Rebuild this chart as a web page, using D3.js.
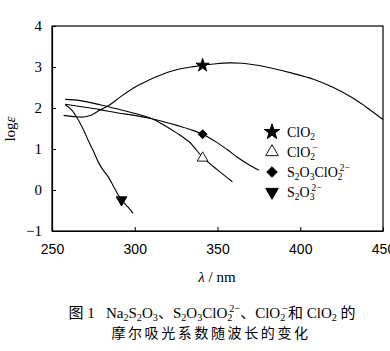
<!DOCTYPE html>
<html><head><meta charset="utf-8">
<script src="https://cdn.jsdelivr.net/npm/d3@7"></script>
<style>body{margin:0;background:#fff}svg{display:block}</style>
</head><body>
<svg id="c" width="390" height="351"></svg>
<script>
// ---- data ----
const xTicks = [250, 300, 350, 400, 450];
const yTicks = [-1, 0, 1, 2, 3, 4];
const clo2Lambda = [257,263,269,274,279,285,291,299,306,313,320,327,334,341,349,357,365,373,383,395,408,420,432,440,450];
const clo2LogE   = [1.82,1.79,1.78,1.83,1.95,2.08,2.26,2.48,2.63,2.76,2.87,2.95,3.0,3.04,3.08,3.1,3.09,3.05,2.97,2.85,2.7,2.5,2.24,2.02,1.72];
const clo2mLambda = [258,267,279,289,299,309,317,325,333,341,350,359];
const clo2mLogE   = [2.21,2.18,2.08,1.98,1.88,1.76,1.6,1.4,1.17,0.8,0.49,0.2];
const s2o3clo2Lambda = [258,268,279,290,300,309,318,326,334,341,350,356,362,368,375];
const s2o3clo2LogE   = [2.09,2.03,1.96,1.88,1.82,1.75,1.66,1.57,1.47,1.36,1.15,0.98,0.8,0.64,0.48];
const s2o3Lambda = [258,262,266,269,272,275,278,281,284,287,290,292,296,299];
const s2o3LogE   = [2.08,1.95,1.7,1.47,1.2,0.95,0.68,0.48,0.32,0.1,-0.12,-0.24,-0.42,-0.57];
const markerLambda = [341, 341, 341, 292];
const markerLogE   = [3.04, 0.78, 1.36, -0.24];
const legendLabels = [
  [["ClO","n"],["2","sub"]],
  [["ClO","n"],["2","sub"],["−","supst"]],
  [["S","n"],["2","sub"],["O","n"],["3","sub"],["ClO","n"],["2","sub"],["2−","supst"]],
  [["S","n"],["2","sub"],["O","n"],["3","sub"],["2−","supst"]]
];

const svg = d3.select("#c");
const x = d3.scaleLinear().domain([250,450]).range([52,383]);
const y = d3.scaleLinear().domain([-1,4]).range([231,26]);
const serif = "'Liberation Serif','Times New Roman',serif";

// frame
svg.append("rect").attr("x",x(250)).attr("y",y(4)).attr("width",x(450)-x(250)).attr("height",y(-1)-y(4))
  .attr("fill","none").attr("stroke","#000").attr("stroke-width",1.2);

const xAxis = svg.append("g").attr("transform",`translate(0,${y(-1)})`)
  .call(d3.axisBottom(x).tickValues(xTicks).tickSizeInner(-4).tickSizeOuter(0).tickPadding(13).tickFormat(d3.format("d")));
xAxis.select(".domain").attr("stroke-width",1.2);
xAxis.selectAll("text").attr("font-family","'Liberation Sans',Arial,sans-serif").attr("font-size",14).attr("fill","#000");

const yAxis = svg.append("g").attr("transform",`translate(${x(250)},0)`)
  .call(d3.axisLeft(y).tickValues(yTicks).tickSizeInner(-4).tickSizeOuter(0).tickPadding(10).tickFormat(d=>d<0?"−"+(-d):d));
yAxis.select(".domain").attr("stroke-width",1.2);
yAxis.selectAll("text").attr("font-family",serif).attr("font-size",15).attr("fill","#000");

// curves
const line = d3.line().x(d=>x(d[0])).y(d=>y(d[1])).curve(d3.curveCatmullRom.alpha(0.5));
const series = [
  [clo2Lambda, clo2LogE],
  [clo2mLambda, clo2mLogE],
  [s2o3clo2Lambda, s2o3clo2LogE],
  [s2o3Lambda, s2o3LogE]
];
series.forEach(([lx, ly]) => {
  svg.append("path").datum(lx.map((v,i)=>[v,ly[i]])).attr("d",line)
    .attr("fill","none").attr("stroke","#000").attr("stroke-width",1.1);
});

// markers
const sym = [
  {type:d3.symbolStar,size:55,fill:"#000",rot:0},
  {type:d3.symbolTriangle,size:50,fill:"#fff",rot:0},
  {type:d3.symbolSquare,size:40,fill:"#000",rot:45},
  {type:d3.symbolTriangle,size:50,fill:"#000",rot:180}
];
markerLambda.forEach((lam,i)=>{
  svg.append("path").attr("d",d3.symbol().type(sym[i].type).size(sym[i].size)())
    .attr("transform",`translate(${x(lam)},${y(markerLogE[i])}) rotate(${sym[i].rot})`)
    .attr("fill",sym[i].fill).attr("stroke","#000").attr("stroke-width",0.9);
});

// rich text helper
function rich(t, parts, fs){
  let prevSubW = 0;
  parts.forEach(([s,k])=>{
    const ts = t.append("tspan").text(s);
    if(k==="sub"){ ts.attr("font-size",fs*0.68); prevSubW = fs*0.68*0.5*s.length; ts.attr("data-k","sub"); }
    else if(k==="supst"){ ts.attr("font-size",fs*0.68).attr("dx",-prevSubW*0.6); ts.attr("data-k","sup"); }
  });
  let cur = 0;
  t.selectAll("tspan").each(function(){
    const el = d3.select(this);
    const k = el.attr("data-k");
    const target = k==="sub"? fs*0.22 : k==="sup"? -fs*0.42 : 0;
    el.attr("dy", target-cur); cur = target;
  });
}

// legend
const legY = [132,152,172,192];
legY.forEach((ly,i)=>{
  svg.append("path").attr("d",d3.symbol().type(sym[i].type).size(sym[i].size*1.4)())
    .attr("transform",`translate(272,${ly}) rotate(${sym[i].rot})`)
    .attr("fill",sym[i].fill).attr("stroke","#000").attr("stroke-width",0.9);
  const t = svg.append("text").attr("x",287).attr("y",ly+5).attr("font-family",serif).attr("font-size",14);
  rich(t, legendLabels[i], 14);
});

// axis titles
const yl = svg.append("text").attr("transform","translate(15,129) rotate(-90)").attr("text-anchor","middle")
  .attr("font-family",serif).attr("font-size",15);
yl.append("tspan").text("log");
yl.append("tspan").attr("font-style","italic").text("ε");

const xl = svg.append("text").attr("x",217).attr("y",282).attr("text-anchor","middle")
  .attr("font-family",serif).attr("font-size",15);
xl.append("tspan").attr("font-style","italic").text("λ");
xl.append("tspan").text(" / nm");

// caption
const capFont = "'Liberation Serif','Noto Sans CJK SC',serif";
const c1 = svg.append("text").attr("x",212).attr("y",318).attr("text-anchor","middle")
  .attr("font-family",capFont).attr("font-size",15).style("white-space","pre");
rich(c1, [["图 1\u00a0\u00a0\u00a0Na","n"],["2","sub"],["S","n"],["2","sub"],["O","n"],["3","sub"],["、S","n"],["2","sub"],["O","n"],["3","sub"],["ClO","n"],["2","sub"],["2−","supst"],["、ClO","n"],["2","sub"],["−","supst"],["和 ClO","n"],["2","sub"],["\u00a0的","n"]], 15);
svg.append("text").attr("x",211).attr("y",338).attr("text-anchor","middle")
  .attr("font-family","'Noto Sans CJK SC',sans-serif").attr("font-size",14).attr("letter-spacing",2.6)
  .text("摩尔吸光系数随波长的变化");
</script>
</body></html>
